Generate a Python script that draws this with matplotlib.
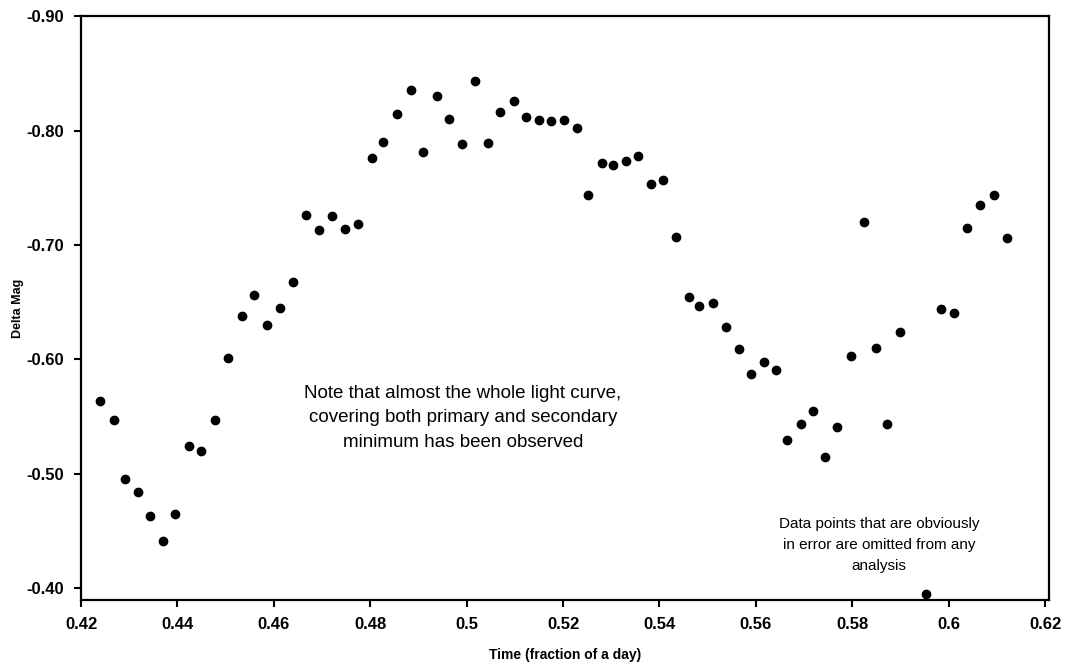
import matplotlib.pyplot as plt

# light curve readings (time as fraction of a day, delta magnitude)
time = [0.4239, 0.4268, 0.4292, 0.4318, 0.4344, 0.4371, 0.4396, 0.4425, 0.4449, 0.4478,
        0.4505, 0.4533, 0.4559, 0.4585, 0.4612, 0.4640, 0.4666, 0.4694, 0.4721, 0.4748,
        0.4774, 0.4803, 0.4827, 0.4856, 0.4885, 0.4910, 0.4939, 0.4963, 0.4991, 0.5018,
        0.5045, 0.5070, 0.5098, 0.5123, 0.5151, 0.5176, 0.5201, 0.5228, 0.5251, 0.5280,
        0.5304, 0.5331, 0.5356, 0.5383, 0.5408, 0.5435, 0.5461, 0.5483, 0.5512, 0.5538,
        0.5564, 0.5589, 0.5617, 0.5642, 0.5665, 0.5693, 0.5718, 0.5744, 0.5769, 0.5798,
        0.5824, 0.5849, 0.5872, 0.5900, 0.5952, 0.5984, 0.6011, 0.6037, 0.6066, 0.6093,
        0.6121]
delta_mag = [-0.564, -0.547, -0.496, -0.484, -0.463, -0.441, -0.465, -0.524, -0.520, -0.547,
             -0.601, -0.638, -0.656, -0.630, -0.645, -0.668, -0.726, -0.713, -0.725, -0.714,
             -0.718, -0.776, -0.790, -0.814, -0.835, -0.781, -0.830, -0.810, -0.788, -0.843,
             -0.789, -0.816, -0.826, -0.812, -0.809, -0.808, -0.809, -0.802, -0.744, -0.772,
             -0.770, -0.773, -0.778, -0.753, -0.757, -0.707, -0.655, -0.647, -0.649, -0.628,
             -0.609, -0.587, -0.598, -0.591, -0.530, -0.544, -0.555, -0.515, -0.541, -0.603,
             -0.720, -0.610, -0.544, -0.624, -0.395, -0.644, -0.641, -0.715, -0.735, -0.744,
             -0.706]

x_ticks = [0.42, 0.44, 0.46, 0.48, 0.50, 0.52, 0.54, 0.56, 0.58, 0.60, 0.62]
x_labels = ['0.42', '0.44', '0.46', '0.48', '0.5', '0.52', '0.54', '0.56', '0.58', '0.6', '0.62']
y_ticks = [-0.90, -0.80, -0.70, -0.60, -0.50, -0.40]
y_labels = ['-0.90', '-0.80', '-0.70', '-0.60', '-0.50', '-0.40']

plain = ['Liberation Sans', 'DejaVu Sans']

fig = plt.figure(figsize=(10.66, 6.68), dpi=100)
ax = fig.add_axes([0.076, 0.102, 0.908, 0.874])

ax.plot(time, delta_mag, 'o', color='black', markersize=6, linestyle='none')

ax.set_xlim(0.42, 0.6208)
ax.set_ylim(-0.39, -0.90)  # magnitudes: brighter at top

ax.set_xticks(x_ticks)
ax.set_xticklabels(x_labels, family=plain, fontweight='bold', fontsize=12)
ax.set_yticks(y_ticks)
ax.set_yticklabels(y_labels, family=plain, fontweight='bold', fontsize=12)
ax.tick_params(direction='out', length=5, width=1.5, colors='black', pad=7)

for s in ax.spines.values():
    s.set_linewidth(1.6)
    s.set_color('black')

ax.set_xlabel('Time (fraction of a day)', family=plain, fontweight='bold', fontsize=10, labelpad=12)
ax.set_ylabel('Delta Mag', family=plain, fontweight='bold', fontsize=9, labelpad=2)

ax.text(0.4992, -0.578, 'Note that almost the whole light curve,\ncovering both primary and secondary\nminimum has been observed',
        family=plain, fontsize=13.5, ha='center', va='top', linespacing=1.58)
ax.text(0.5855, -0.462, 'Data points that are obviously\nin error are omitted from any\nanalysis',
        family=plain, fontsize=11, ha='center', va='top', linespacing=1.6)

fig.savefig('out.png', dpi=100, facecolor='white')
